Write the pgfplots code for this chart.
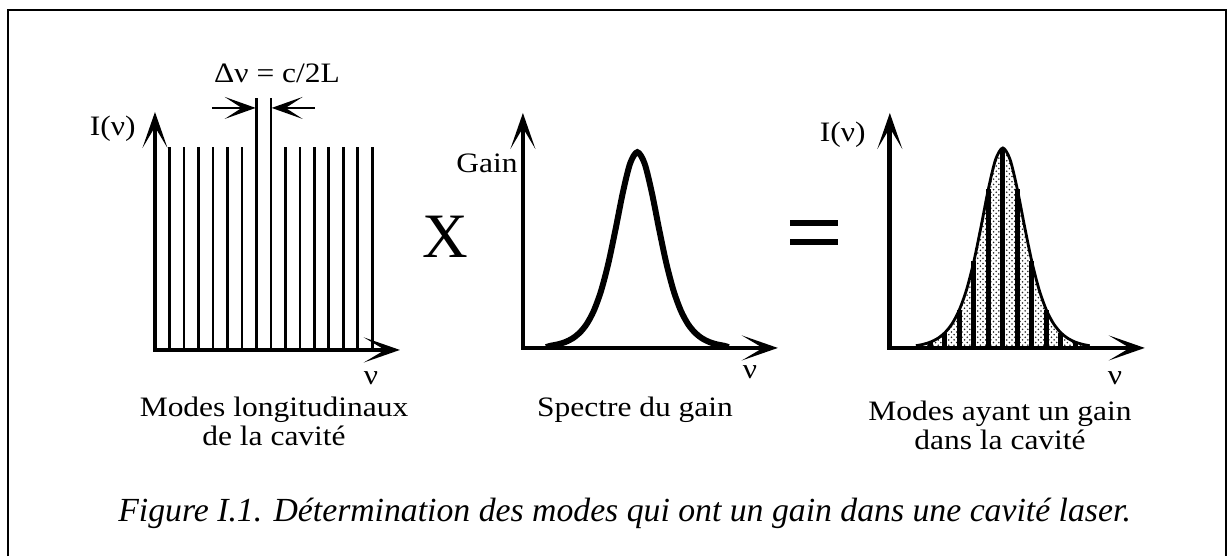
\documentclass[border=0pt]{standalone}
\usepackage{fontspec}
\setmainfont{Liberation Serif}
\usepackage{graphicx}
\usepackage{pgfplots}
\pgfplotsset{compat=1.18}
\usetikzlibrary{arrows.meta,patterns}

\pgfplotsset{
  panel/.style={scale only axis, axis lines=none, enlargelimits=false,
    clip=false, xmin=0, ymin=0, anchor=origin},
}
\tikzset{
  bigtip/.tip={Stealth[length=0.72cm,width=0.5cm,inset=0.42cm]},
  axarrow/.style={line width=2.7pt, bigtip-bigtip, line join=miter},
  smalltip/.tip={Stealth[length=0.62cm,width=0.44cm,inset=0.34cm]},
}
\newcommand\bt{\fontsize{16}{14}\selectfont}
\newcommand\st[1]{\scalebox{1.12}[1]{#1}}

\begin{document}
\begin{tikzpicture}
% frame and bounding box (pixel units)
\begin{scope}[x=0.02cm,y=-0.02cm]
  \useasboundingbox (0,0) rectangle (1229,556);
  \draw[line width=1.6pt] (8,556) -- (8,10) -- (1226,10) -- (1226,556);
\end{scope}

% panel 1: longitudinal modes
\begin{axis}[panel, at={(3.10cm,-7.00cm)}, width=4.9cm, height=4.76cm,
  xmax=16.9, ymax=1.172]
\addplot[ycomb, line width=1.6pt, no marks] coordinates {
  (1,1)(2,1)(3,1)(4,1)(5,1)(6,1)(7,1.24)(8,1.24)
  (9,1)(10,1)(11,1)(12,1)(13,1)(14,1)(15,1)};
\draw[axarrow] (axis cs:0,1.172) -- (axis cs:0,0) -- (axis cs:16.9,0);
\draw[line width=1.3pt, -smalltip] (axis cs:3.93,1.192) -- (axis cs:6.95,1.192);
\draw[line width=1.3pt, -smalltip] (axis cs:11.03,1.192) -- (axis cs:8.05,1.192);
\end{axis}

% panel 2: gain spectrum
\begin{axis}[panel, at={(10.46cm,-6.96cm)}, width=5.1cm, height=4.7cm,
  xmax=17.6, ymax=1.2]
\addplot[smooth, line width=3.4pt, no marks] coordinates {
  (1.6,0.004)(1.9,0.0111)(2.4,0.0181)(2.9,0.0293)(3.4,0.0475)(3.9,0.0763)(4.4,0.1216)
  (4.9,0.1908)(5.4,0.2925)(5.9,0.4329)(6.4,0.6078)(6.9,0.7938)(7.4,0.9422)
  (7.9,1)
  (8.4,0.9422)(8.9,0.7938)(9.4,0.6078)(9.9,0.4329)(10.4,0.2925)(10.9,0.1908)
  (11.4,0.1216)(11.9,0.0763)(12.4,0.0475)(12.9,0.0293)(13.4,0.0181)(13.9,0.0111)(14.2,0.004)};
\draw[axarrow] (axis cs:0,1.2) -- (axis cs:0,0) -- (axis cs:17.6,0);
\end{axis}

% panel 3: modes with gain
\begin{axis}[panel, at={(17.80cm,-6.96cm)}, width=5.1cm, height=4.7cm,
  xmax=17.6, ymax=1.175]
\addplot[smooth, draw=none, fill=black!16, pattern=crosshatch dots,
  pattern color=black!85] coordinates {
  (1.8,0.0111)(2.3,0.0181)(2.8,0.0293)(3.3,0.0475)(3.8,0.0763)(4.3,0.1216)
  (4.8,0.1908)(5.3,0.2925)(5.8,0.4329)(6.3,0.6078)(6.8,0.7938)(7.3,0.9422)
  (7.8,1)
  (8.3,0.9422)(8.8,0.7938)(9.3,0.6078)(9.8,0.4329)(10.3,0.2925)(10.8,0.1908)
  (11.3,0.1216)(11.8,0.0763)(12.3,0.0475)(12.8,0.0293)(13.3,0.0181)(13.8,0.0111)}
  \closedcycle;
\addplot[smooth, line width=1.6pt, no marks] coordinates {
  (1.8,0.0111)(2.3,0.0181)(2.8,0.0293)(3.3,0.0475)(3.8,0.0763)(4.3,0.1216)
  (4.8,0.1908)(5.3,0.2925)(5.8,0.4329)(6.3,0.6078)(6.8,0.7938)(7.3,0.9422)
  (7.8,1)
  (8.3,0.9422)(8.8,0.7938)(9.3,0.6078)(9.8,0.4329)(10.3,0.2925)(10.8,0.1908)
  (11.3,0.1216)(11.8,0.0763)(12.3,0.0475)(12.8,0.0293)(13.3,0.0181)(13.8,0.0111)};
\addplot[ycomb, line width=2.8pt, no marks] coordinates {
  (1.8,0.0111)(2.8,0.0293)(3.8,0.0763)(4.8,0.1908)(5.8,0.4329)(6.8,0.7938)
  (7.8,1)(8.8,0.7938)(9.8,0.4329)(10.8,0.1908)(11.8,0.0763)(12.8,0.0293)
  (13.8,0.0111)};
\draw[axarrow] (axis cs:0,1.175) -- (axis cs:0,0) -- (axis cs:17.6,0);
\end{axis}

% texts (pixel units)
\begin{scope}[x=0.02cm,y=-0.02cm, inner sep=0pt]
  \node[anchor=base] at (277,82) {\bt\st{Δν = c/2L}};
  \node[anchor=base east] at (136,135) {\bt\st{I(ν)}};
  \node[anchor=base east] at (518,172) {\bt\st{Gain}};
  \node[anchor=base east] at (866,141) {\bt\st{I(ν)}};
  \node[anchor=base] at (371,384) {\bt\st{ν}};
  \node[anchor=base] at (750,378) {\bt\st{ν}};
  \node[anchor=base] at (1115,384) {\bt\st{ν}};
  \node[anchor=base] at (445,257) {\fontsize{36}{40}\selectfont X};
  \draw[line width=3.4pt] (790,223) -- (838,223) (790,242) -- (838,242);
  \node[anchor=base] at (274,416) {\bt\st{Modes longitudinaux}};
  \node[anchor=base] at (274,445) {\bt\st{de la cavité}};
  \node[anchor=base] at (635,416) {\bt\st{Spectre du gain}};
  \node[anchor=base] at (1000,420) {\bt\st{Modes ayant un gain}};
  \node[anchor=base] at (1000,449) {\bt\st{dans la cavité}};
  \node[anchor=base west] at (118,521) {\fontsize{19.2}{22}\selectfont\itshape
    Figure I.1. Détermination des modes qui ont un gain dans une cavité laser.};
\end{scope}
\end{tikzpicture}
\end{document}
